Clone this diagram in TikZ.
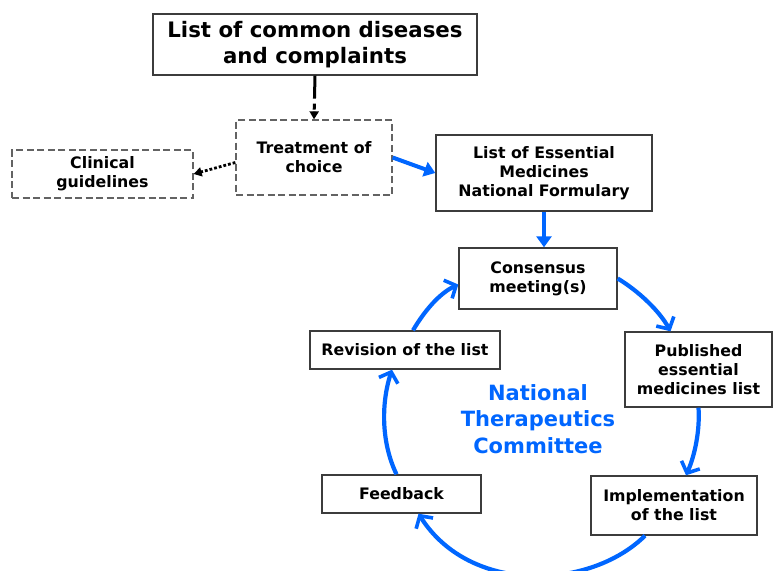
\documentclass[tikz,border=0pt]{standalone}
\usepackage{fontspec}
\setmainfont{DejaVu Sans}
\usetikzlibrary{arrows.meta}
\definecolor{ntcblue}{RGB}{0,102,255}
\definecolor{boxline}{RGB}{60,60,60}
\begin{document}
\begin{tikzpicture}[x=1pt,y=-1pt,
  every node/.style={font=\bfseries\fontsize{15.8}{19}\selectfont, align=center, inner sep=0pt},
  solidbox/.style={draw=boxline, line width=1.4pt, fill=white},
  dashbox/.style={draw=boxline!80, line width=1.3pt, dash pattern=on 7pt off 3.5pt, fill=white},
  flow/.style={draw=ntcblue, line width=4.2pt, -{Straight Barb[length=9pt,width=20pt,line width=3.6pt]}},
  straightflow/.style={draw=ntcblue, line width=4pt, -{Triangle[length=11pt,width=15pt]}}
]
\useasboundingbox (0,0) rectangle (773,570);

% boxes
\node[solidbox, minimum width=324pt, minimum height=61pt, font=\bfseries\fontsize{21.3}{26}\selectfont]
  (top) at (315,44.5) {List of common diseases\\and complaints};
\node[dashbox, minimum width=156pt, minimum height=75pt] (treat) at (314,157.5) {Treatment of\\choice};
\node[dashbox, minimum width=181pt, minimum height=48pt] (clin) at (102.5,174) {Clinical\\guidelines};
\node[solidbox, minimum width=216pt, minimum height=76pt] (loem) at (544,173)
  {List of Essential\\Medicines\\National Formulary};
\node[solidbox, minimum width=158pt, minimum height=61pt] (cons) at (538,278.5) {Consensus\\meeting(s)};
\node[solidbox, minimum width=147pt, minimum height=75pt] (pub) at (698.5,369.5)
  {Published\\essential\\medicines list};
\node[solidbox, minimum width=166pt, minimum height=59pt] (impl) at (674,505.5) {Implementation\\of the list};
\node[solidbox, minimum width=159pt, minimum height=38pt] (fb) at (401.5,494) {Feedback};
\node[solidbox, minimum width=190pt, minimum height=38pt] (rev) at (405,350) {Revision of the list};
\node[text=ntcblue, font=\bfseries\fontsize{21}{26.5}\selectfont] (ntc) at (538,419)
  {National\\Therapeutics\\Committee};

% top part
\draw[line width=3pt, dash pattern=on 23pt off 5pt on 6pt off 2pt, -{Triangle[length=8pt,width=9pt]}]
  (top.south) -- (treat.north);
\draw[line width=2.8pt, dotted, -{Triangle[length=8pt,width=9pt]}]
  ([yshift=-5pt]treat.west) -- (clin.east);
\draw[straightflow] (treat.east) -- (loem.west);
\draw[straightflow] (loem.south) -- (loem.south |- cons.north);

% the cycle
\draw[flow] (cons.east) .. controls (640,292) and (660,312) .. ([xshift=-28pt]pub.north);
\draw[flow] (pub.south) .. controls (700,430) and (695,455) .. ([xshift=12pt]impl.north);
\draw[flow] ([xshift=-29pt]impl.south) .. controls (590,590) and (470,595) .. ([xshift=17pt]fb.south);
\draw[flow] ([xshift=-5pt]fb.north) .. controls (380,440) and (382,400) .. ([xshift=-13pt]rev.south);
\draw[flow] ([xshift=8pt]rev.north) .. controls (425,310) and (440,293) .. ([yshift=-6pt]cons.west);
\end{tikzpicture}
\end{document}
